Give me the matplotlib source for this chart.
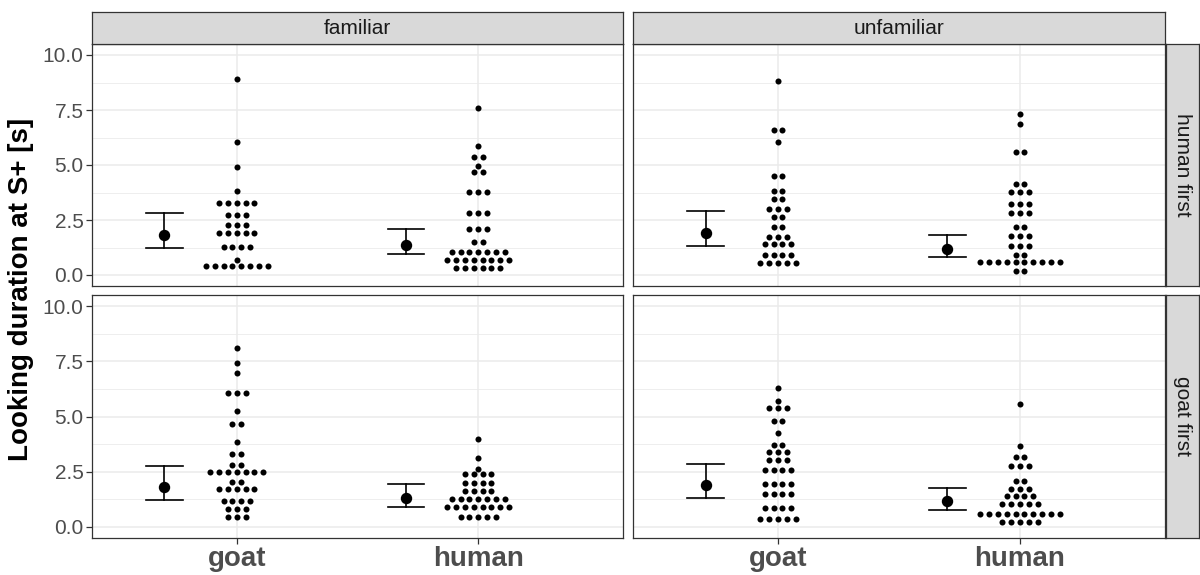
import matplotlib
matplotlib.use("Agg")
import matplotlib.pyplot as plt
from matplotlib.ticker import MultipleLocator, FuncFormatter

plt.rcParams['font.family'] = ['Liberation Sans', 'DejaVu Sans']

# Facet levels
familiarity = ["familiar", "unfamiliar"]
order = ["human first", "goat first"]
species = ["goat", "human"]

# Binned looking durations (s) and number of subjects in each bin
# key: (order, familiarity, species)
bins = {
    ("human first", "familiar", "goat"): (
        [8.89, 6.04, 4.92, 3.80, 3.28, 2.74, 2.26, 1.90, 1.28, 0.68, 0.42],
        [1, 1, 1, 1, 5, 3, 3, 5, 4, 1, 8]),
    ("human first", "familiar", "human"): (
        [7.59, 5.88, 5.37, 4.96, 4.66, 3.77, 2.81, 2.10, 1.48, 1.03, 0.69, 0.32],
        [1, 1, 2, 1, 2, 3, 3, 3, 2, 7, 8, 6]),
    ("human first", "unfamiliar", "goat"): (
        [8.81, 6.57, 6.04, 4.49, 3.84, 3.46, 3.01, 2.64, 2.18, 1.73, 1.42, 0.92, 0.53],
        [1, 2, 1, 2, 2, 2, 3, 2, 2, 3, 4, 4, 5]),
    ("human first", "unfamiliar", "human"): (
        [7.30, 6.85, 5.60, 4.12, 3.76, 3.21, 2.81, 2.20, 1.76, 1.33, 0.92, 0.57, 0.20],
        [1, 1, 2, 2, 3, 3, 3, 2, 3, 3, 2, 10, 2]),
    ("goat first", "familiar", "goat"): (
        [8.11, 7.40, 6.96, 6.07, 5.23, 4.68, 3.84, 3.31, 2.79, 2.48, 2.04, 1.71, 1.19, 0.80, 0.45],
        [1, 1, 1, 3, 1, 2, 1, 2, 2, 7, 2, 5, 4, 3, 3]),
    ("goat first", "familiar", "human"): (
        [3.97, 3.11, 2.62, 2.38, 1.99, 1.63, 1.25, 0.90, 0.47],
        [1, 1, 1, 4, 4, 4, 7, 8, 5]),
    ("goat first", "unfamiliar", "goat"): (
        [6.29, 5.69, 5.37, 4.81, 4.27, 3.70, 3.39, 3.02, 2.56, 1.93, 1.51, 0.86, 0.38],
        [1, 1, 3, 2, 1, 2, 3, 3, 4, 4, 4, 4, 5]),
    ("goat first", "unfamiliar", "human"): (
        [5.58, 3.65, 3.17, 2.78, 2.07, 1.72, 1.40, 1.06, 0.59, 0.23],
        [1, 1, 2, 3, 2, 3, 4, 5, 10, 5]),
}

# Model estimates with 95% confidence limits (goat, human)
estimate = {
    ("human first", "familiar"): ([1.81, 1.36], [1.25, 0.95], [2.82, 2.07]),
    ("human first", "unfamiliar"): ([1.91, 1.18], [1.31, 0.83], [2.91, 1.81]),
    ("goat first", "familiar"): ([1.81, 1.31], [1.24, 0.89], [2.75, 1.93]),
    ("goat first", "unfamiliar"): ([1.92, 1.16], [1.30, 0.78], [2.87, 1.75]),
}

W, H = 1200, 575
fig = plt.figure(figsize=(W / 100, H / 100), dpi=100)

col_x = [(92, 623), (633, 1165)]
row_y = [(44, 286), (295, 538)]
strip_top = 12
strip_right = (1166, 1199)

border = "#333333"
strip_fill = "#D9D9D9"
grid_c = "#EBEBEB"
text_c = "#4D4D4D"

dot_step = 0.0364
err_offset = -0.30
cap_half = 0.075


def fig_rect(x0, y0, x1, y1):
    return [x0 / W, 1 - y1 / H, (x1 - x0) / W, (y1 - y0) / H]


def style_strip(sax):
    sax.set_xticks([])
    sax.set_yticks([])
    sax.set_facecolor(strip_fill)
    for s in sax.spines.values():
        s.set_color(border)
        s.set_linewidth(0.9)


for r, ordr in enumerate(order):
    for c, fam in enumerate(familiarity):
        x0, x1 = col_x[c]
        y0, y1 = row_y[r]
        ax = fig.add_axes(fig_rect(x0, y0, x1, y1))
        ax.set_xlim(0.4, 2.6)
        ax.set_ylim(-0.5, 10.5)
        ax.yaxis.set_major_locator(MultipleLocator(2.5))
        ax.yaxis.set_minor_locator(MultipleLocator(1.25))
        ax.set_xticks([1, 2])
        ax.grid(True, which="major", color=grid_c, lw=1.1, zorder=0)
        ax.grid(True, which="minor", axis="y", color=grid_c, lw=0.6, zorder=0)
        ax.set_axisbelow(True)
        for s in ax.spines.values():
            s.set_color(border)
            s.set_linewidth(0.9)

        if c == 0:
            ax.yaxis.set_major_formatter(FuncFormatter(lambda v, p: f"{v:.1f}"))
            ax.tick_params(axis="y", which="major", labelsize=15, labelcolor=text_c,
                           color=border, length=4, width=0.9, pad=2)
        else:
            ax.tick_params(axis="y", which="major", labelleft=False, length=0)
        ax.tick_params(axis="y", which="minor", length=0)

        if r == 1:
            ax.set_xticklabels(species, fontsize=20, fontweight="bold", color=text_c)
            ax.tick_params(axis="x", color=border, length=4, width=0.9, pad=2)
        else:
            ax.tick_params(axis="x", labelbottom=False, length=0)

        # dot stacks, centred on each category
        for k, sp in enumerate(species):
            vals, counts = bins[(ordr, fam, sp)]
            xs, ys = [], []
            for v, n in zip(vals, counts):
                for i in range(n):
                    xs.append(k + 1 + (i - (n - 1) / 2) * dot_step)
                    ys.append(v)
            ax.scatter(xs, ys, s=19, color="black", lw=0, zorder=3)

        # estimates with confidence intervals
        m, lo, hi = estimate[(ordr, fam)]
        for k in range(2):
            xc = k + 1 + err_offset
            ax.plot([xc, xc], [lo[k], hi[k]], color="black", lw=1.2, zorder=3)
            ax.plot([xc - cap_half, xc + cap_half], [lo[k], lo[k]], color="black", lw=1.2, zorder=3)
            ax.plot([xc - cap_half, xc + cap_half], [hi[k], hi[k]], color="black", lw=1.2, zorder=3)
            ax.plot([xc], [m[k]], "o", color="black", ms=7.2, zorder=4)

        # column strips
        if r == 0:
            sax = fig.add_axes(fig_rect(x0, strip_top, x1, y0))
            style_strip(sax)
            sax.text(0.5, 0.5, fam, ha="center", va="center", fontsize=15,
                     color="#1A1A1A", transform=sax.transAxes)

    # row strips
    sx0, sx1 = strip_right
    y0, y1 = row_y[r]
    sax = fig.add_axes(fig_rect(sx0, y0, sx1, y1))
    style_strip(sax)
    sax.text(0.5, 0.5, ordr, ha="center", va="center", fontsize=15, rotation=-90,
             color="#1A1A1A", transform=sax.transAxes)

fig.text(21 / W, 1 - 289 / H, "Looking duration at S+ [s]", rotation=90, ha="center",
         va="center", fontsize=20, fontweight="bold", color="black")

fig.savefig("out.png", dpi=100)
